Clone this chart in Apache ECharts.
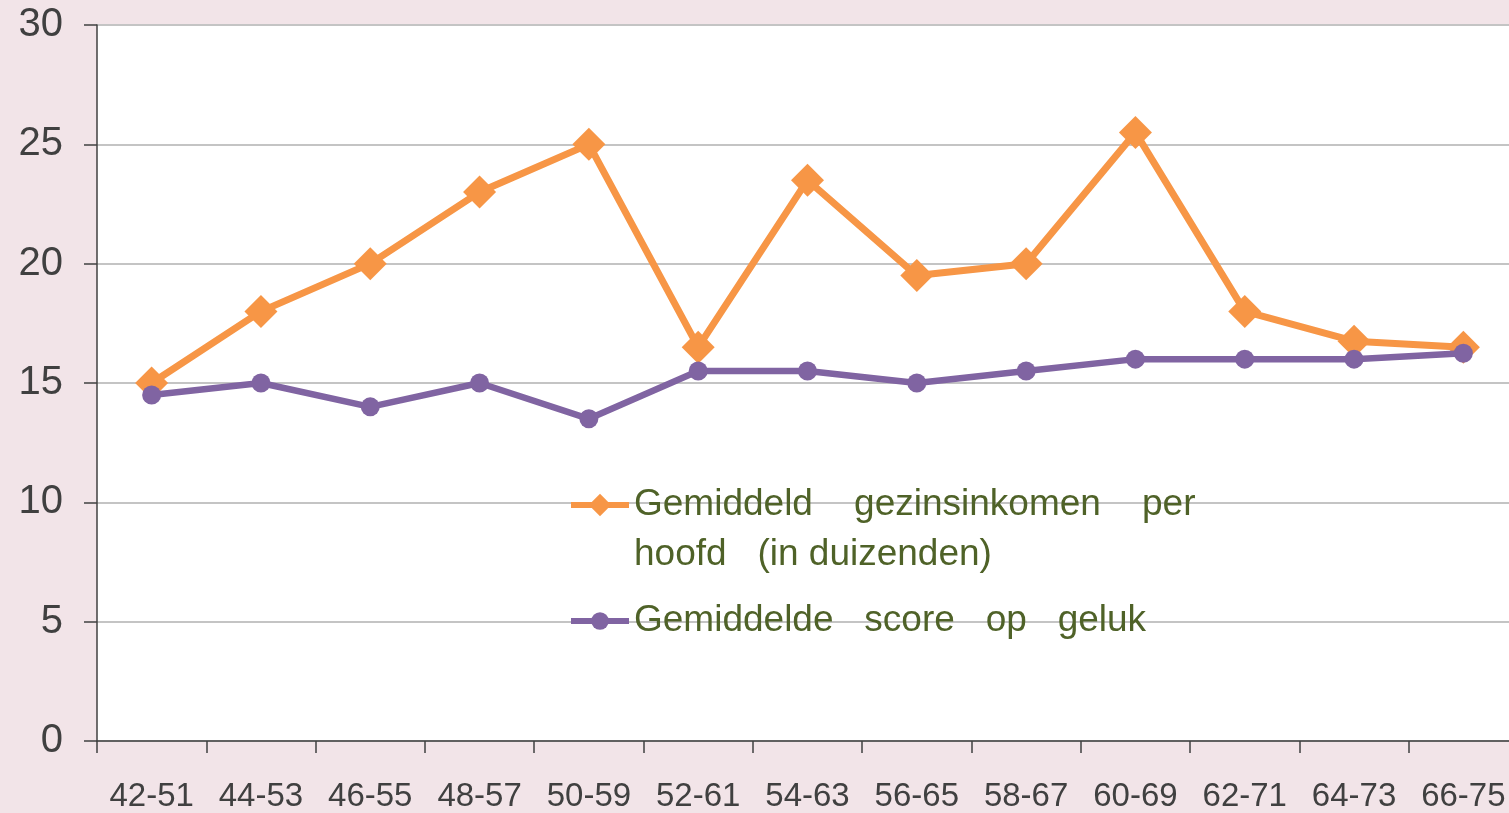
<!DOCTYPE html>
<html><head><meta charset="utf-8">
<script src="https://cdn.jsdelivr.net/npm/echarts@6/dist/echarts.min.js"></script>
<style>html,body{margin:0;padding:0;background:#f2e4e8;}#c{width:1509px;height:813px;}</style>
</head><body><div id="c"></div>
<script>
const categories = ['42-51','44-53','46-55','48-57','50-59','52-61','54-63','56-65','58-67','60-69','62-71','64-73','66-75'];
const income = [15, 18, 20, 23, 25, 16.5, 23.5, 19.5, 20, 25.5, 18, 16.75, 16.5];
const happiness = [14.5, 15, 14, 15, 13.5, 15.5, 15.5, 15, 15.5, 16, 16, 16, 16.25];
const yTicks = {min: 0, max: 30, interval: 5};
const nameIncome = 'Gemiddeld gezinsinkomen per hoofd (in duizenden)';
const nameHappy = 'Gemiddelde score op geluk';

const chart = echarts.init(document.getElementById('c'), null, {renderer: 'canvas'});
const legendText = {color: '#4f6228', fontSize: 37, fontFamily: 'Liberation Sans, Arial, sans-serif', lineHeight: 50};
chart.setOption({
  backgroundColor: '#f2e4e8',
  animation: false,
  grid: {left: 97, top: 25, width: 1421, bottom: 72, containLabel: false, outerBoundsMode: 'none', show: true, backgroundColor: '#ffffff', borderWidth: 0},
  legend: [
    {data: [nameIncome], left: 563, top: 425, itemWidth: 58, itemHeight: 28, textStyle: legendText,
     lineStyle: {width: 6}, formatter: function () { return ' \nGemiddeld    gezinsinkomen    per\nhoofd   (in duizenden)'; }},
    {data: [nameHappy], left: 563, top: 591, itemWidth: 58, itemHeight: 22, textStyle: legendText,
     lineStyle: {width: 6}, formatter: function () { return 'Gemiddelde   score   op   geluk'; }}
  ],
  xAxis: {
    type: 'category', data: categories, boundaryGap: true,
    axisLine: {lineStyle: {color: '#404040', width: 1.5}},
    axisTick: {show: true, interval: 0, length: 12, lineStyle: {color: '#404040', width: 1.5}},
    axisLabel: {interval: 0, color: '#404040', fontSize: 33, fontFamily: "'Liberation Sans Narrow', 'Arial Narrow', 'Liberation Sans', sans-serif", margin: 39},
    splitLine: {show: false}
  },
  yAxis: {
    type: 'value', min: yTicks.min, max: yTicks.max, interval: yTicks.interval,
    axisLine: {show: true, lineStyle: {color: '#404040', width: 1.5}},
    axisTick: {show: true, length: 13, lineStyle: {color: '#404040', width: 1.5}},
    axisLabel: {color: '#404040', fontSize: 40, fontFamily: 'Liberation Sans, Arial, sans-serif', margin: 34},
    splitLine: {show: true, lineStyle: {color: '#c4c4c4', width: 2}}
  },
  series: [
    {name: nameIncome, type: 'line', data: income, symbol: 'diamond', symbolSize: 33,
     lineStyle: {color: '#f79646', width: 7}, itemStyle: {color: '#f79646'}, z: 2},
    {name: nameHappy, type: 'line', data: happiness, symbol: 'circle', symbolSize: 19,
     lineStyle: {color: '#8064a2', width: 6.5}, itemStyle: {color: '#8064a2'}, z: 3}
  ]
});
</script></body></html>
